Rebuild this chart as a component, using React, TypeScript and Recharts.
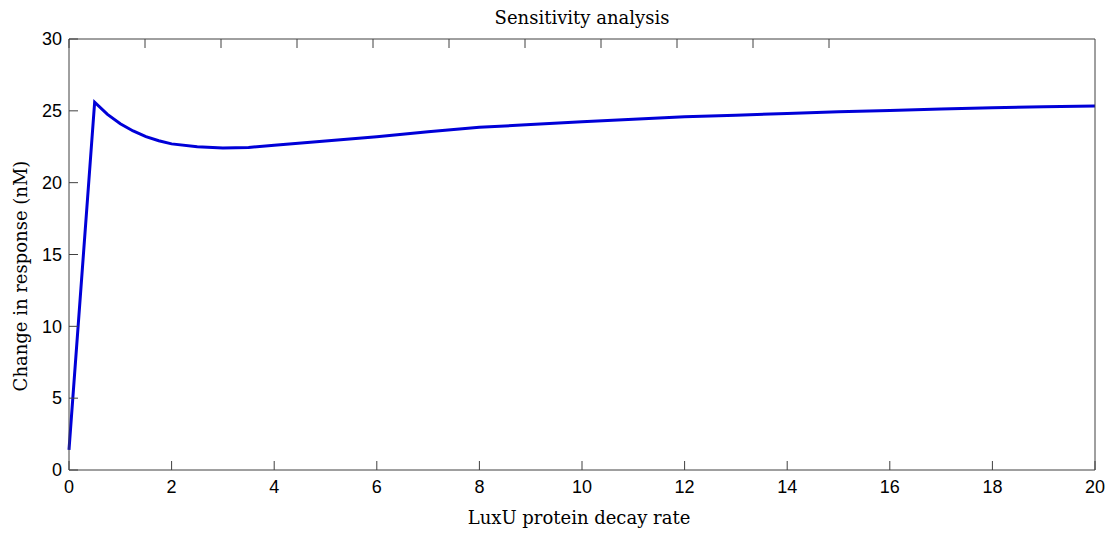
import { LineChart, Line, XAxis, YAxis } from 'recharts'

// LuxU decay rate vs. change in response (nM)
const decayRate = [0, 0.5, 0.75, 1, 1.25, 1.5, 1.75, 2, 2.5, 3, 3.5, 4, 5, 6, 7, 8, 9, 10, 11, 12, 13, 14, 15, 16, 17, 18, 19, 20]
const responseChange = [1.4, 25.6, 24.75, 24.1, 23.6, 23.2, 22.92, 22.7, 22.5, 22.42, 22.45, 22.6, 22.9, 23.2, 23.55, 23.85, 24.05, 24.24, 24.42, 24.58, 24.7, 24.82, 24.94, 25.03, 25.12, 25.22, 25.28, 25.33]

const xTicks = [0, 2, 4, 6, 8, 10, 12, 14, 16, 18, 20]
const yTicks = [0, 5, 10, 15, 20, 25, 30]

const data = decayRate.map((x, i) => ({ x, y: responseChange[i] }))

const axisColor = '#404040'
const tickLen = 9
const tickFont = { fontSize: 18, fontFamily: 'Liberation Sans, Arial, sans-serif', fill: '#000' }
const labelFont = { fontSize: 18, fontFamily: 'DejaVu Serif, serif', fill: '#000' }

// inward ticks, MATLAB style
const BottomTick = ({ x, y, payload }: any) => (
  <g>
    <line x1={x} x2={x} y1={y - 10} y2={y - 10 - tickLen} stroke={axisColor} />
    <text x={x} y={y} dy="0.71em" textAnchor="middle" style={tickFont}>{payload.value}</text>
  </g>
)
const LeftTick = ({ x, y, payload }: any) => (
  <g>
    <line x1={x + 7} x2={x + 7 + tickLen} y1={y} y2={y} stroke={axisColor} />
    <text x={x} y={y} dy="0.35em" textAnchor="end" style={tickFont}>{payload.value}</text>
  </g>
)
const TopTick = ({ x, y }: any) => <line x1={x} x2={x} y1={y} y2={y + tickLen} stroke={axisColor} />
const RightTick = ({ x, y }: any) => <line x1={x} x2={x - tickLen} y1={y} y2={y} stroke={axisColor} />

export default function App() {
  return (
    <div style={{ position: 'absolute', left: 0, top: 0, background: '#fff' }}>
      <LineChart width={1111} height={533} data={data} margin={{ top: 38, right: 15, left: 9, bottom: 23 }}>
        <XAxis
          dataKey="x" type="number" domain={[0, 20]} ticks={xTicks} height={40}
          stroke={axisColor} tickLine={false} tickSize={0} tickMargin={10} tick={<BottomTick />}
        />
        <XAxis
          xAxisId="top" orientation="top" type="number" domain={[0, 20]} ticks={xTicks} height={1}
          stroke={axisColor} tickLine={false} tickSize={0} tickMargin={0} tick={<TopTick />}
        />
        <YAxis
          type="number" domain={[0, 30]} ticks={yTicks} width={60}
          stroke={axisColor} tickLine={false} tickSize={0} tickMargin={7} tick={<LeftTick />}
        />
        <YAxis
          yAxisId="right" orientation="right" type="number" domain={[0, 30]} ticks={yTicks} width={1}
          stroke={axisColor} tickLine={false} tickSize={0} tickMargin={0} tick={<RightTick />}
        />
        <Line
          dataKey="y" type="linear" stroke="#0000d8" strokeWidth={3} dot={false}
          isAnimationActive={false}
        />
        <text x={582} y={24} textAnchor="middle" style={labelFont}>Sensitivity analysis</text>
        <text x={579} y={524} textAnchor="middle" style={labelFont}>LuxU protein decay rate</text>
        <text x={27} y={276} textAnchor="middle" transform="rotate(-90 27 276)" style={labelFont}>Change in response (nM)</text>
      </LineChart>
    </div>
  )
}
